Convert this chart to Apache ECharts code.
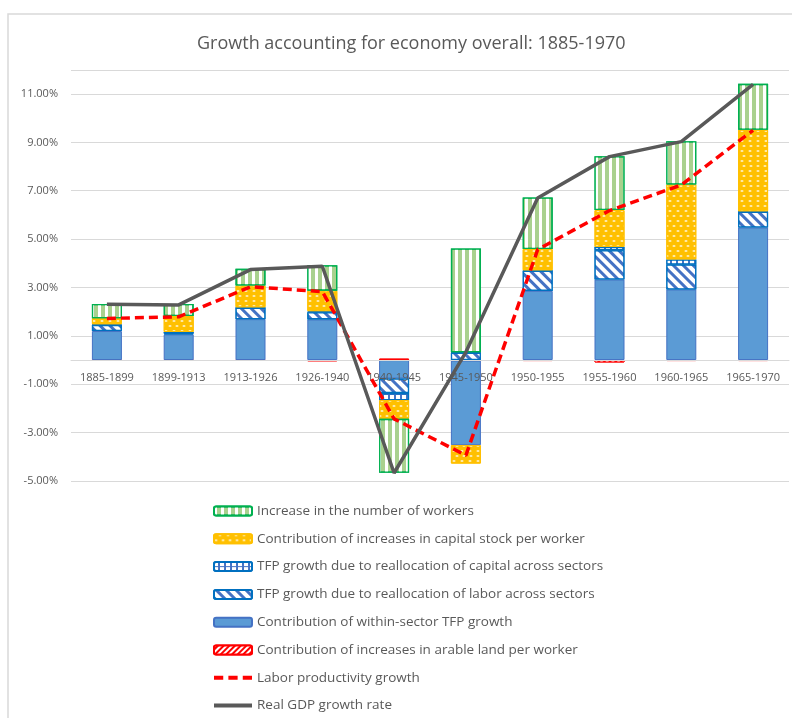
<!DOCTYPE html>
<html>
<head>
<meta charset="utf-8">
<script src="https://cdn.jsdelivr.net/npm/echarts@6/dist/echarts.min.js"></script>
<style>
  html, body { margin: 0; padding: 0; background: #fff; }
  #chart { width: 792px; height: 718px; }
</style>
</head>
<body>
<div id="chart"></div>
<script>
const categories = ['1885-1899', '1899-1913', '1913-1926', '1926-1940', '1940-1945',
  '1945-1950', '1950-1955', '1955-1960', '1960-1965', '1965-1970']

// all values in percent
const arableLand = [-0.02, -0.02, -0.02, -0.05, 0.06, -0.02, -0.04, -0.1, -0.04, -0.04]
const withinSector = [1.2, 1.06, 1.69, 1.68, -0.76, -3.5, 2.86, 3.33, 2.92, 5.48]
const laborRealloc = [0.25, 0.04, 0.47, 0.3, -0.6, 0.3, 0.83, 1.21, 1.03, 0.65]
const capitalRealloc = [0.03, 0.06, 0.02, 0.04, -0.3, 0.02, 0.02, 0.14, 0.21, 0.02]
const capitalStock = [0.25, 0.66, 0.9, 0.85, -0.77, -0.76, 0.88, 1.52, 3.1, 3.37]
const workers = [0.59, 0.5, 0.69, 1.05, -2.23, 4.29, 2.13, 2.23, 1.79, 1.9]
const laborProductivity = [1.72, 1.79, 3.03, 2.83, -2.43, -3.94, 4.57, 6.18, 7.24, 9.5]
const gdpGrowth = [2.31, 2.28, 3.74, 3.88, -4.67, 0.33, 6.7, 8.41, 9.03, 11.4]

const yTicks = [-5, -3, -1, 1, 3, 5, 7, 9, 11]
const yMin = -5
const yMax = 12

const names = {
  workers: 'Increase in the number of workers',
  capStock: 'Contribution of increases in capital stock per worker',
  capRealloc: 'TFP growth due to reallocation of capital across sectors',
  labRealloc: 'TFP growth due to reallocation of labor across sectors',
  within: 'Contribution of within-sector TFP growth',
  arable: 'Contribution of increases in arable land per worker',
  lp: 'Labor productivity growth',
  gdp: 'Real GDP growth rate'
}

const textColor = '#595959'
const font = '"Open Sans", sans-serif'

const gridTop = 69.8
const gridBottom = 237
const gridHeight = 718 - gridTop - gridBottom
// move the category axis up to the 0% line
const xAxisOffset = -gridHeight * (0 - yMin) / (yMax - yMin)

function barSeries (name, data, itemStyle) {
  return {
    name: name,
    type: 'bar',
    stack: 'total',
    barWidth: 30,
    data: data,
    itemStyle: itemStyle,
    emphasis: { disabled: true }
  }
}

const chart = echarts.init(document.getElementById('chart'))

chart.setOption({
  animation: false,
  textStyle: { fontFamily: font },
  title: {
    text: 'Growth accounting for economy overall: 1885-1970',
    left: 192,
    top: 30,
    textStyle: { fontFamily: font, fontSize: 18, fontWeight: 'normal', color: textColor }
  },
  graphic: [
    {
      type: 'rect',
      shape: { x: 8, y: 14, width: 820, height: 740 },
      style: { fill: null, stroke: '#d9d9d9', lineWidth: 1.5 },
      silent: true
    }
  ],
  grid: { left: 71, right: 3, top: gridTop, bottom: gridBottom, containLabel: false },
  legend: {
    orient: 'vertical',
    left: 213,
    top: 504,
    height: 214,
    padding: 0,
    itemWidth: 38,
    itemHeight: 9,
    itemGap: 13.8,
    textStyle: { fontFamily: font, fontSize: 13.5, color: textColor, lineHeight: 14 },
    data: [names.workers, names.capStock, names.capRealloc, names.labRealloc,
      names.within, names.arable,
      { name: names.lp, icon: 'path://M0,0h9v4h-9z M14,0h9v4h-9z M28,0h9v4h-9z' },
      { name: names.gdp, icon: 'path://M0,0h38v4h-38z' }]
  },
  xAxis: {
    type: 'category',
    data: categories,
    position: 'bottom',
    offset: xAxisOffset,
    z: 4,
    axisTick: { show: false },
    axisLine: { onZero: false, lineStyle: { color: '#d9d9d9', width: 1 } },
    axisLabel: { color: textColor, fontSize: 11, margin: 12, interval: 0 }
  },
  yAxis: {
    type: 'value',
    min: yMin,
    max: yMax,
    interval: 2,
    axisLine: { show: false },
    axisTick: { show: false },
    splitLine: { lineStyle: { color: '#d9d9d9', width: 1 } },
    axisLabel: {
      color: textColor,
      fontSize: 11,
      margin: 13,
      formatter: function (v) {
        return yTicks.indexOf(Math.round(v * 100) / 100) >= 0 ? v.toFixed(2) + '%' : ''
      }
    }
  },
  series: [
    barSeries(names.arable, arableLand, {
      color: '#ff0000',
      borderColor: '#ff0000',
      borderWidth: 1,
      decal: { symbol: 'rect', color: '#ffffff', dashArrayX: [1, 0], dashArrayY: [2, 2], rotation: -Math.PI / 4 }
    }),
    barSeries(names.within, withinSector, {
      color: '#5b9bd5',
      borderColor: '#4472c4',
      borderWidth: 1
    }),
    barSeries(names.labRealloc, laborRealloc, {
      color: '#4472c4',
      borderColor: '#0070c0',
      borderWidth: 1.3,
      decal: { symbol: 'rect', color: '#ffffff', dashArrayX: [1, 0], dashArrayY: [4, 3], rotation: Math.PI / 4 }
    }),
    barSeries(names.capRealloc, capitalRealloc, {
      color: '#4472c4',
      borderColor: '#0070c0',
      borderWidth: 1.3,
      decal: { symbol: 'rect', color: '#ffffff', dashArrayX: [4, 2], dashArrayY: [4, 1] }
    }),
    barSeries(names.capStock, capitalStock, {
      color: '#ffc000',
      borderColor: '#ffc000',
      borderWidth: 1,
      decal: {
        symbol: 'roundRect',
        color: 'rgba(255,255,255,0.85)',
        symbolSize: 0.7,
        dashArrayX: [[4, 3], [0, 3.5, 4, 0]],
        dashArrayY: [2, 3]
      }
    }),
    barSeries(names.workers, workers, {
      color: '#a9d18e',
      borderColor: '#00b050',
      borderWidth: 1.3,
      decal: { symbol: 'rect', color: '#ffffff', dashArrayX: [3, 4], dashArrayY: [1, 0] }
    }),
    {
      name: names.lp,
      type: 'line',
      data: laborProductivity,
      symbol: 'none',
      z: 5,
      lineStyle: { color: '#ff0000', width: 3.5, type: [9, 5] },
      itemStyle: { color: '#ff0000' },
      emphasis: { disabled: true }
    },
    {
      name: names.gdp,
      type: 'line',
      data: gdpGrowth,
      symbol: 'none',
      z: 6,
      lineStyle: { color: '#595959', width: 3.5 },
      itemStyle: { color: '#595959' },
      emphasis: { disabled: true }
    }
  ]
})
</script>
</body>
</html>
